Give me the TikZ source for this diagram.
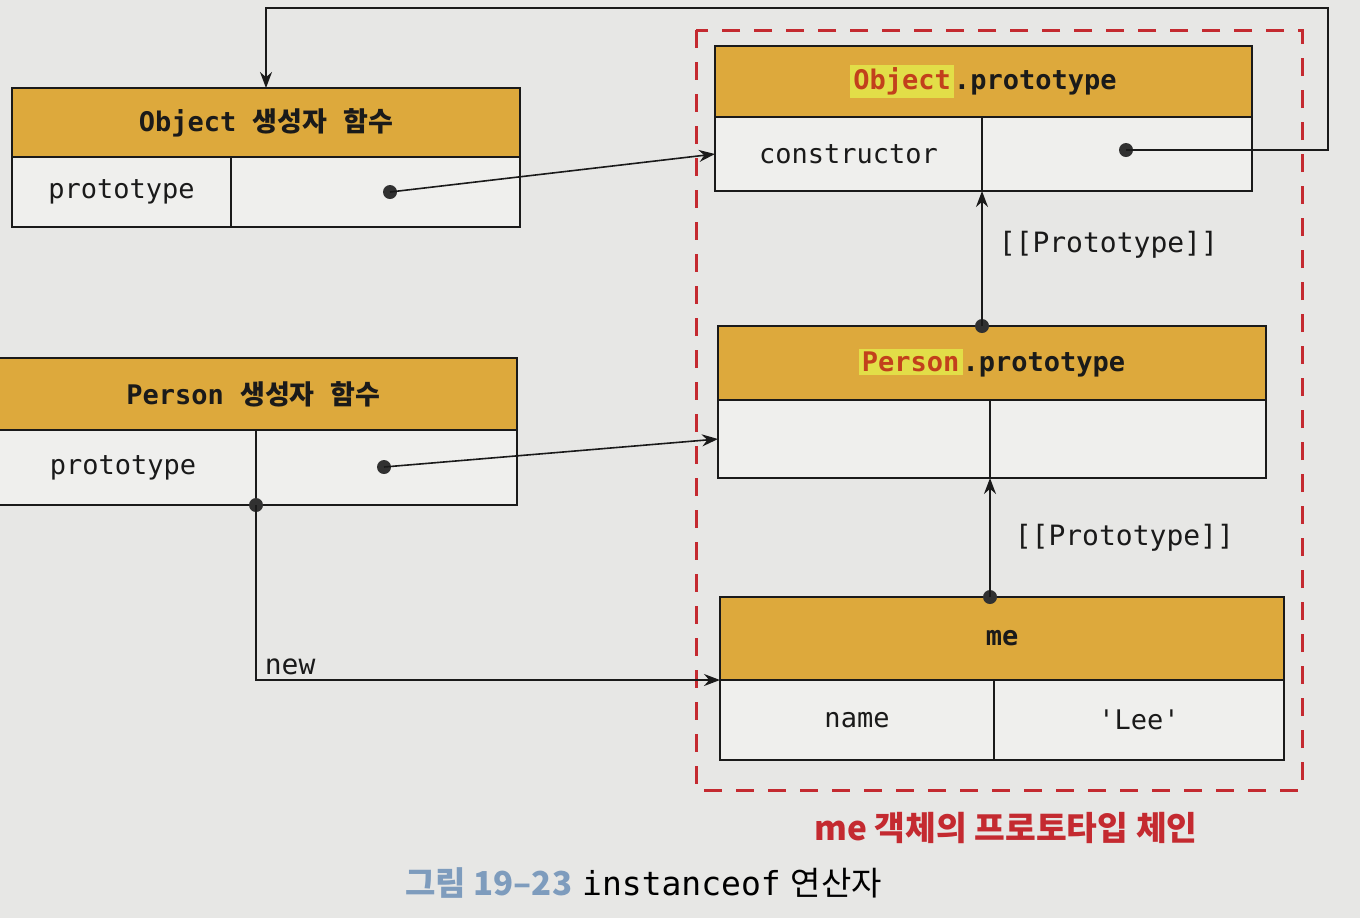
\documentclass[tikz,border=0pt]{standalone}
\usepackage{fontspec}
\setmonofont{DejaVu Sans Mono}
\newfontfamily\krfont{Noto Sans CJK KR}
\usetikzlibrary{arrows.meta}

\definecolor{paper}{HTML}{E7E7E5}
\definecolor{cellfill}{HTML}{EFEFED}
\definecolor{gold}{HTML}{DDA93C}
\definecolor{chainred}{HTML}{C42A30}
\definecolor{namered}{HTML}{C2401C}
\definecolor{namehl}{HTML}{E2DE48}
\definecolor{capblue}{HTML}{7E9CBD}
\definecolor{ink}{HTML}{1A1A1A}

\newcommand\hlname[1]{{\setlength{\fboxsep}{1.5pt}\colorbox{namehl}{\textcolor{namered}{#1}}}}

\tikzset{
  hdrbox/.style={draw=ink, line width=1pt, fill=gold, inner sep=0pt, outer sep=0pt,
    anchor=north west, font=\fontsize{13.5}{16}\selectfont\ttfamily\bfseries, text=ink},
  cellbox/.style={draw=ink, line width=1pt, fill=cellfill, inner sep=0pt, outer sep=0pt,
    anchor=north west, font=\fontsize{13.5}{16}\selectfont\ttfamily, text=ink},
  conn/.style={draw=ink, line width=0.8pt, -{Stealth[length=8pt,width=6pt]}},
  dot/.style={circle, fill=ink!90, inner sep=0pt, minimum size=7pt},
  lbl/.style={font=\fontsize{14}{16}\selectfont\ttfamily, text=ink, inner sep=2pt},
  chain/.style={draw=chainred, line width=1.5pt, dash pattern=on 9pt off 7pt},
}

\begin{document}
\begin{tikzpicture}[x=0.5pt, y=-0.5pt]
\clip (0,0) rectangle (1360,918);
\fill[paper] (0,0) rectangle (1360,918);

% prototype chain frame
\draw[chain] (696,30) rectangle (1302,790);

% Object constructor function
\node[hdrbox, minimum width=254pt, minimum height=34.5pt] (objctor-h) at (12,88)
  {Object\ {\krfont\bfseries 생성자}\ {\krfont\bfseries 함수}};
\node[cellbox, minimum width=109.5pt, minimum height=35pt] (objctor-l) at (12,157) {prototype};
\node[cellbox, minimum width=144.5pt, minimum height=35pt] (objctor-r) at (231,157) {};

% Person constructor function
\node[hdrbox, minimum width=263.5pt, minimum height=36pt] (perctor-h) at (-10,358)
  {Person\ {\krfont\bfseries 생성자}\ {\krfont\bfseries 함수}};
\node[cellbox, minimum width=133pt, minimum height=37.5pt] (perctor-l) at (-10,430) {prototype};
\node[cellbox, minimum width=130.5pt, minimum height=37.5pt] (perctor-r) at (256,430) {};

% Object.prototype
\node[hdrbox, minimum width=268.5pt, minimum height=35.5pt] (objproto-h) at (715,46)
  {\hlname{Object}.prototype};
\node[cellbox, minimum width=133.5pt, minimum height=37pt] (objproto-l) at (715,117) {constructor};
\node[cellbox, minimum width=135pt, minimum height=37pt] (objproto-r) at (982,117) {};

% Person.prototype
\node[hdrbox, minimum width=274pt, minimum height=37pt] (perproto-h) at (718,326)
  {\hlname{Person}.prototype};
\node[cellbox, minimum width=136pt, minimum height=39pt] (perproto-l) at (718,400) {};
\node[cellbox, minimum width=138pt, minimum height=39pt] (perproto-r) at (990,400) {};

% me instance
\node[hdrbox, minimum width=282pt, minimum height=41.5pt] (me-h) at (720,597) {me};
\node[cellbox, minimum width=137pt, minimum height=40pt] (me-l) at (720,680) {name};
\node[cellbox, minimum width=145pt, minimum height=40pt] (me-r) at (994,680) {'Lee'};

% reference dots
\node[dot] (objctor-d) at (390,192) {};
\node[dot] (perctor-d) at (384,467) {};
\node[dot] (objproto-d) at (1126,150) {};
\node[dot] (perctor-j) at (perctor-l.south east) {};
\node[dot] (perproto-t) at (perproto-h.north west -| objproto-l.south east) {};
\node[dot] (me-t) at (me-h.north west -| perproto-l.south east) {};

% prototype properties
\draw[conn] (objctor-d.center) -- (objproto-l.west);
\draw[conn] (perctor-d.center) -- (perproto-l.west);

% constructor property back to Object
\coordinate (loop-r) at (1328,8);
\draw[conn] (objproto-d.center) -| (loop-r) -| (objctor-h.north);

% new
\draw[conn] (perctor-j.center) |- node[lbl, pos=0.5, above right, xshift=2pt] {new} (me-h.south west);

% [[Prototype]] links
\draw[conn] (perproto-t.center) -- node[lbl, right, xshift=6pt, pos=0.6] {[[Prototype]]} (objproto-l.south east);
\draw[conn] (me-t.center) -- node[lbl, right, xshift=10pt] {[[Prototype]]} (perproto-l.south east);

% labels
\node[font=\fontsize{16.7}{20}\selectfont\krfont\bfseries, text=chainred] (chain-lbl) at (1006,828)
  {me 객체의 프로토타입 체인};
\node[anchor=west, font=\fontsize{16.5}{20}\selectfont, inner sep=0pt] (caption) at (405,883)
  {{\krfont\bfseries\color{capblue}그림 19–23} {\ttfamily instanceof} {\krfont 연산자}};
\end{tikzpicture}
\end{document}
